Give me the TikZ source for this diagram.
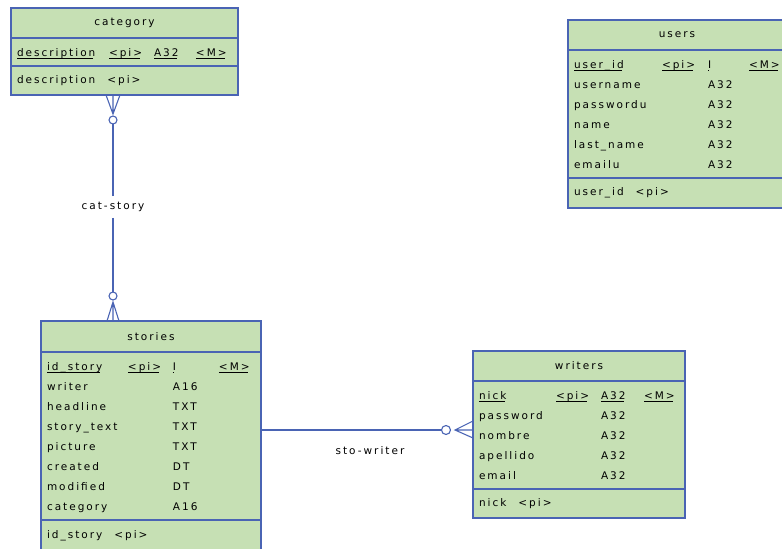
\documentclass[tikz,border=0pt]{standalone}
\usepackage{fontspec}
\setmainfont{DejaVu Sans}[LetterSpace=19]
\usepackage{array}
\usepackage{xcolor}
\definecolor{erblue}{HTML}{4A64B4}
\definecolor{ergreen}{HTML}{C6E0B4}
\usetikzlibrary{positioning}
\setlength\extrarowheight{0pt}
\renewcommand\arraystretch{0}
\newcolumntype{C}[1]{>{\rule[-6pt]{0pt}{20pt}}p{#1}}
\newcommand{\keyu}[1]{\leavevmode\sbox0{#1}\rlap{\rule[-2.6pt]{\dimexpr\wd0-1.9pt\relax}{0.8pt}}\usebox0}
\tikzset{
  eb/.style={draw=erblue, fill=ergreen, line width=1.4pt, outer sep=0pt,
             font=\fontsize{10.5}{20}\selectfont},
  etitle/.style={eb, minimum height=30pt, inner xsep=0pt, anchor=north west},
  ecomp/.style={eb, inner xsep=6pt, inner ysep=4pt, align=left, anchor=north west},
  eid/.style={ecomp, minimum height=29pt},
  rl/.style={draw=erblue, line width=1.1pt},
  rlabel/.style={fill=white, inner xsep=2pt, inner ysep=6pt,
                 font=\fontsize{10.5}{20}\selectfont},
}

\begin{document}
\begin{tikzpicture}[x=1pt, y=-1pt]
  \clip (0,0) rectangle (782,549);

  % category
  \node[etitle, minimum width=227pt] (catt) at (11,8) {category};
  \node[ecomp, text width=215pt] (cata) at (catt.south west) {%
    \begin{tabular}{@{}C{92pt}@{}C{45pt}@{}C{42pt}@{}l@{}}
      \keyu{description} & \keyu{<pi>} & \keyu{A32} & \keyu{<M>}
    \end{tabular}};
  \node[eid, text width=215pt] (cati) at (cata.south west) {description\hspace{12pt}<pi>};

  % users
  \node[etitle, minimum width=218pt] (usrt) at (568,20) {users};
  \node[ecomp, text width=206pt] (usra) at (usrt.south west) {%
    \begin{tabular}{@{}C{88pt}@{}C{46pt}@{}C{41pt}@{}l@{}}
      \keyu{user\_id} & \keyu{<pi>} & \keyu{I} & \keyu{<M>}\\
      username  & & A32 & \\
      passwordu & & A32 & \\
      name      & & A32 & \\
      last\_name & & A32 & \\
      emailu    & & A32 &
    \end{tabular}};
  \node[eid, text width=206pt, minimum height=30pt] (usri) at (usra.south west) {user\_id\hspace{12pt}<pi>};

  % stories
  \node[etitle, minimum width=220pt, minimum height=31pt] (stot) at (41,321) {stories};
  \node[ecomp, text width=208pt] (stoa) at (stot.south west) {%
    \begin{tabular}{@{}C{81pt}@{}C{45pt}@{}C{46pt}@{}l@{}}
      \keyu{id\_story} & \keyu{<pi>} & \keyu{I} & \keyu{<M>}\\
      writer      & & A16 & \\
      headline    & & TXT & \\
      story\_text & & TXT & \\
      picture     & & TXT & \\
      created     & & DT  & \\
      modified    & & DT  & \\
      category    & & A16 &
    \end{tabular}};
  \node[eid, text width=208pt, minimum height=31pt] (stoi) at (stoa.south west) {id\_story\hspace{12pt}<pi>};

  % writers
  \node[etitle, minimum width=212pt] (writ) at (473,351) {writers};
  \node[ecomp, text width=200pt] (wria) at (writ.south west) {%
    \begin{tabular}{@{}C{77pt}@{}C{45pt}@{}C{43pt}@{}l@{}}
      \keyu{nick} & \keyu{<pi>} & \keyu{A32} & \keyu{<M>}\\
      password & & A32 & \\
      nombre   & & A32 & \\
      apellido & & A32 & \\
      email    & & A32 &
    \end{tabular}};
  \node[eid, text width=200pt] (wrii) at (wria.south west) {nick\hspace{12pt}<pi>};

  % cat-story
  \node[rlabel] (lcs) at (113,207) {cat-story};
  \path (cati.south -| lcs) ++(0,25) coordinate (csc1);
  \path (stot.north -| lcs) ++(0,-25) coordinate (csc2);
  \draw[rl] (lcs.north) -- (csc1) (lcs.south) -- (csc2);
  \draw[rl] (csc1) ++(-7,-25) -- ++(7,19) -- ++(7,-19)
            (csc1) ++(0,-25) -- ++(0,19);
  \draw[rl] (csc2) ++(-6,25) -- ++(6,-19) -- ++(6,19)
            (csc2) ++(0,25) -- ++(0,-19);
  \draw[rl, fill=white] (csc1) circle[radius=4] (csc2) circle[radius=4];

  % sto-writer
  \node[rlabel, fill=none] (lsw) at (370,451) {sto-writer};
  \path (wria.west) ++(-27,-5) coordinate (swc);
  \draw[rl] (stoa.east |- swc) -- (swc);
  \draw[rl, line width=2.2pt] (swc) ++(-38,0) -- ++(34,0);
  \draw[rl] (swc) ++(27,-9) -- ++(-18,9) -- ++(18,8)
            (swc) ++(9,0) -- ++(18,0);
  \draw[rl, fill=white] (swc) circle[radius=4.5];
\end{tikzpicture}
\end{document}
